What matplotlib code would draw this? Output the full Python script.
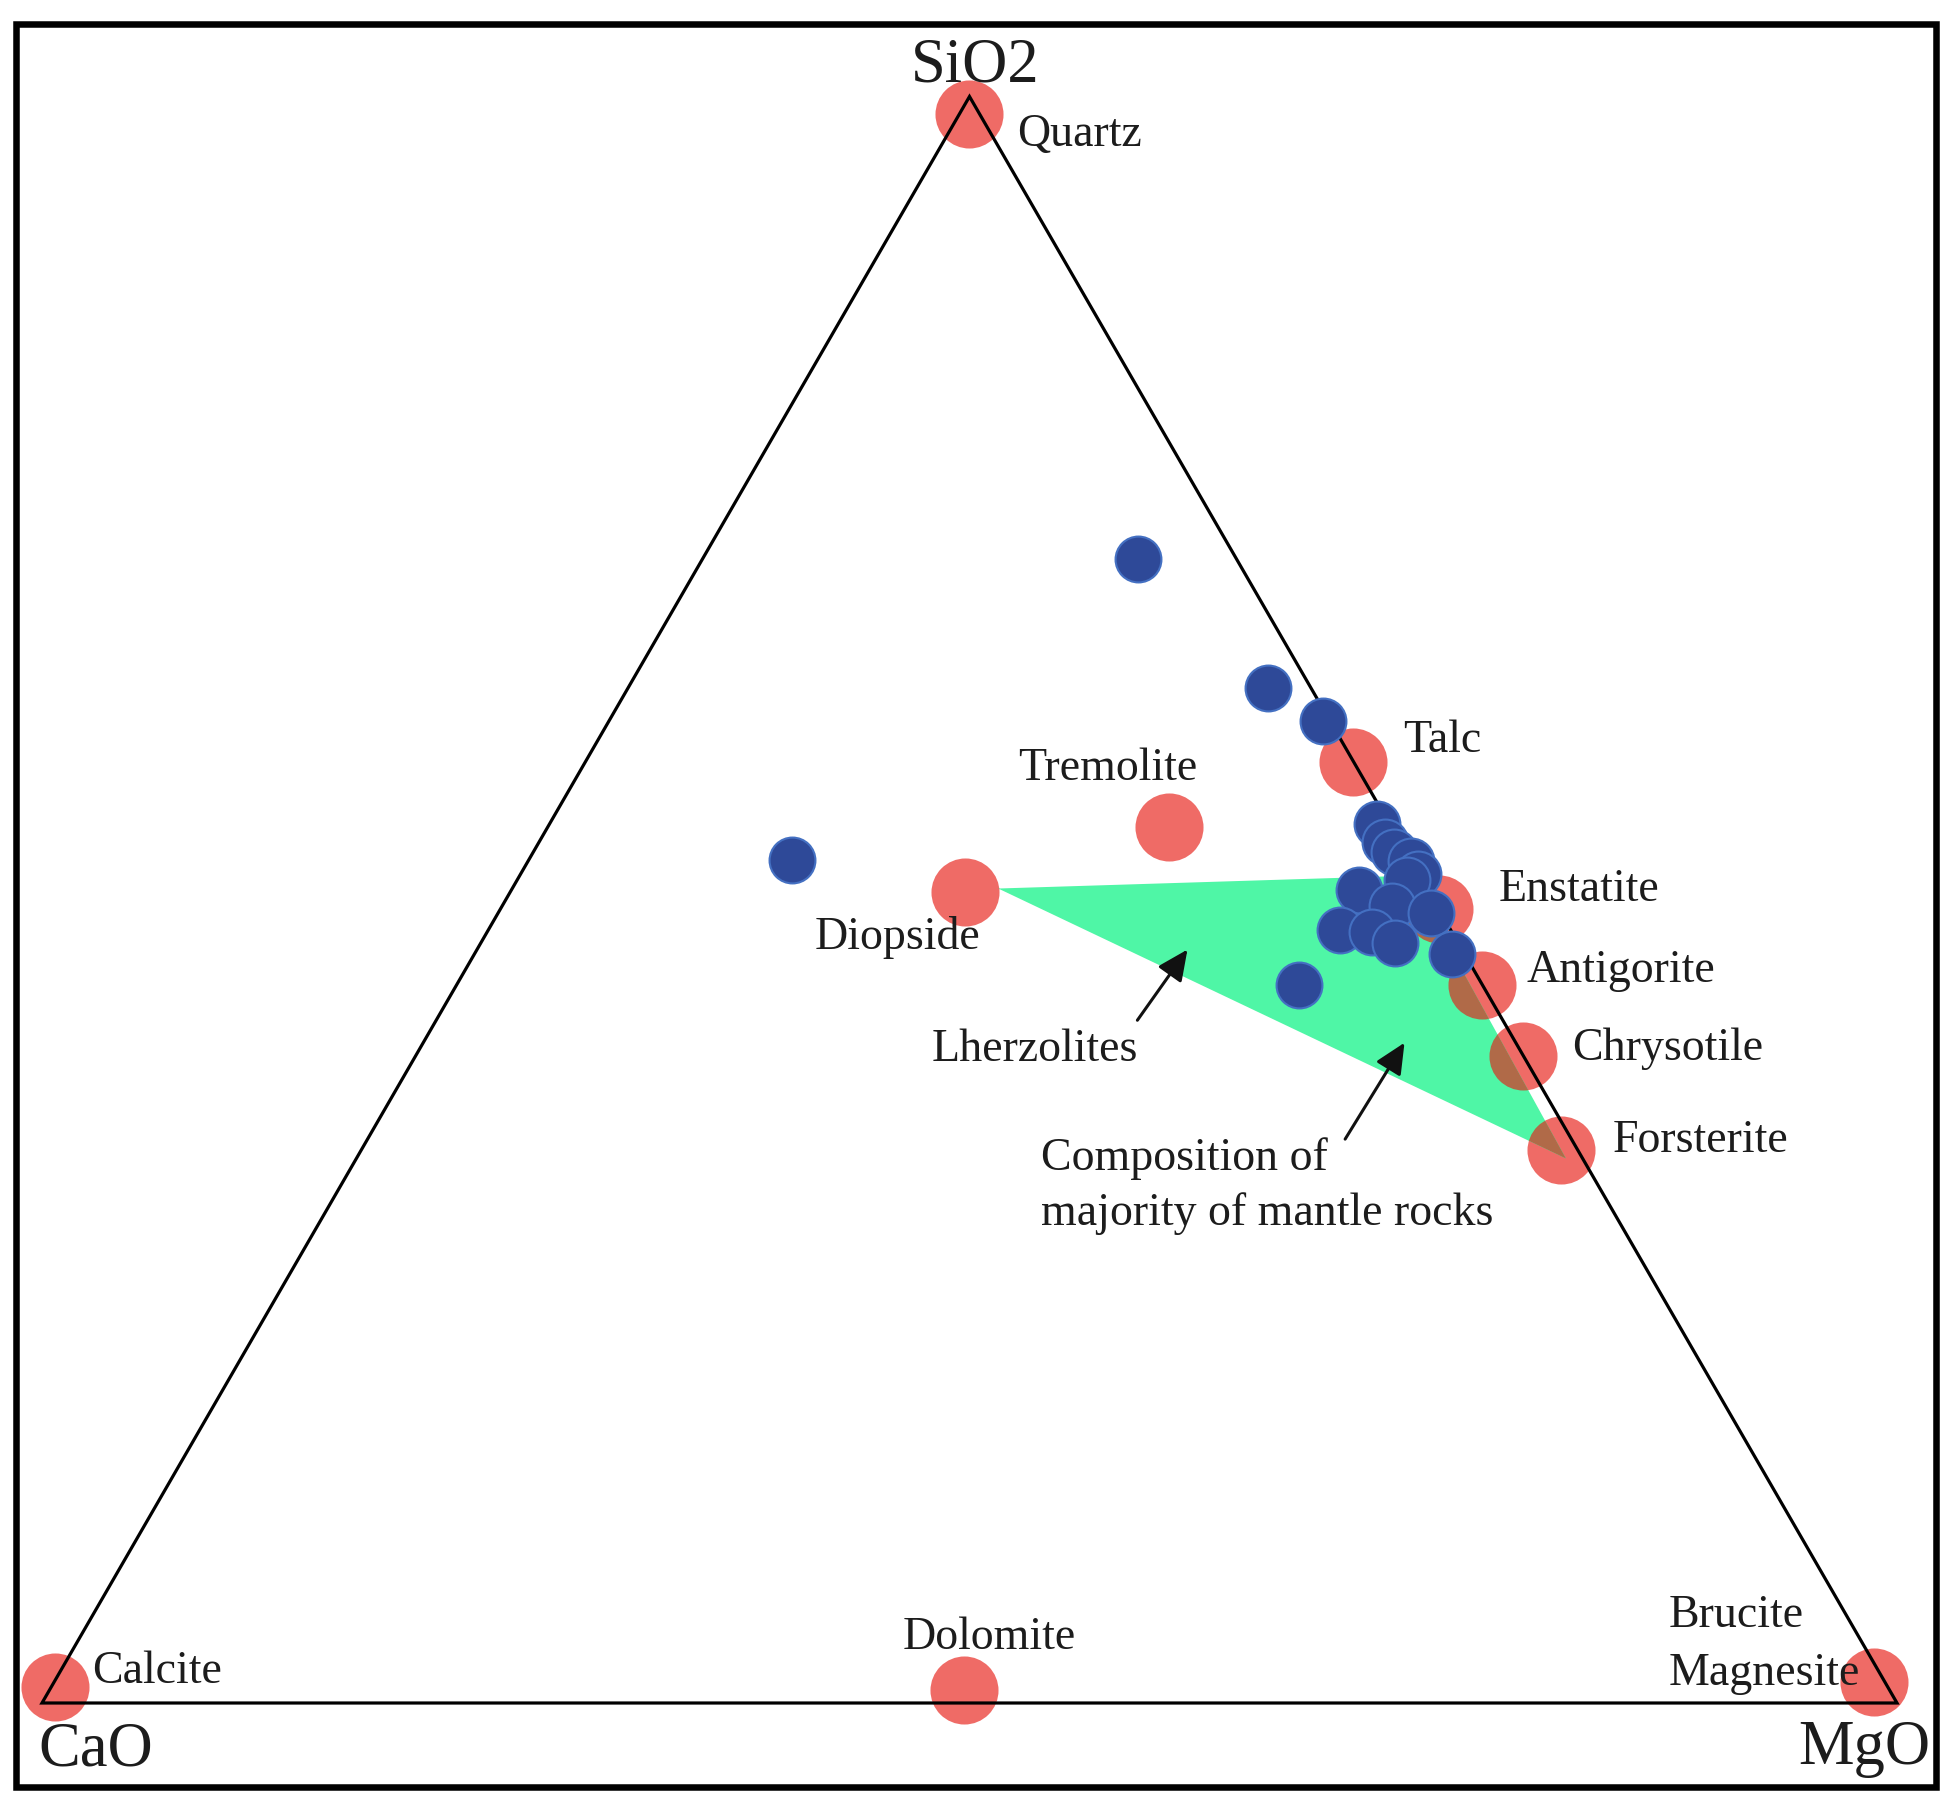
import numpy as np
import matplotlib.pyplot as plt
from matplotlib.patches import Polygon, Rectangle

# --- data (molar %, SiO2 / CaO / MgO) ---
minerals = ["Quartz", "Calcite", "Brucite\nMagnesite", "Dolomite", "Tremolite",
            "Diopside", "Talc", "Enstatite", "Antigorite", "Chrysotile", "Forsterite"]
min_sio2 = [98.9, 1.0, 1.3, 0.8, 54.5, 50.5, 58.6, 49.4, 44.7, 40.3, 34.4]
min_cao = [0.6, 98.8, 0.6, 49.9, 12.0, 25.0, 0.0, 0.0, 0.0, 0.0, 0.9]
min_mgo = [0.5, 0.2, 98.1, 49.3, 33.5, 24.5, 41.4, 50.6, 55.3, 59.7, 64.7]

sample_sio2 = [54.7, 53.6, 53.0, 52.4, 51.6, 51.2, 50.6, 49.6, 49.2, 48.1, 48.0, 47.3, 46.6, 44.7,
               71.2, 63.2, 61.1, 52.5]
sample_cao = [0.7, 0.8, 0.6, 0.0, 0.0, 0.8, 3.7, 2.4, 0.5, 6.0, 4.3, 3.4, 0.7, 9.9,
              5.3, 2.3, 0.4, 33.3]
sample_mgo = [44.6, 45.6, 46.4, 47.6, 48.4, 48.0, 45.7, 48.0, 50.3, 45.9, 47.7, 49.3, 52.7, 45.4,
              23.5, 34.5, 38.5, 14.2]

# mantle rock field
field_sio2 = [50.7, 51.5, 33.9]
field_cao = [23.1, 0.5, 0.9]
field_mgo = [26.2, 48.0, 65.2]

# annotation arrows: (head, tail) compositions
arrow_labels = ["Lherzolites", "Composition of\nmajority of mantle rocks"]
arrow_head = [(46.9, 14.8, 38.3), (41.1, 6.0, 52.9)]
arrow_tail = [(42.5, 19.7, 37.8), (35.1, 12.2, 52.7)]

# label offsets in pixels from each point (left edge, baseline)
label_offsets = [(49, -32), (37, 4), (-205, 55), (-61, 41), (-151, 47), (-150, -57),
                 (50, 10), (60, 8), (44, 3), (49, -4), (51, -2)]
arrow_text_offsets = [(-206, -41), (-304, -31)]
arrow_line_step = [0, 55]

RED = "#ef6b66"
BROWN = "#b06a48"
GREEN = "#4ff6a6"
BLUE = "#2e4998"
BLUE_EDGE = "#4470c2"
TXT = "#1c1c1c"
FONT = "Liberation Serif"
H = np.sqrt(3) / 2


def tern(sio2, cao, mgo):
    s = np.asarray(sio2, float)
    c = np.asarray(cao, float)
    m = np.asarray(mgo, float)
    tot = s + c + m
    s, m = s / tot, m / tot
    return m + s / 2, s * H


fig = plt.figure(figsize=(19.52, 18.09), dpi=100)
ax = fig.add_axes([0, 0, 1, 1])
ax.set_xlim(-42 / 1855, 1910 / 1855)
ax.set_ylim(-106 / 1855, 1703 / 1855)
ax.axis("off")

# outer frame
fig.patches.append(Rectangle((0.00845, 0.01216), 0.98335, 0.97457, transform=fig.transFigure,
                             fill=False, lw=4.7, ec="black"))

# mineral end-members
mx, my = tern(min_sio2, min_cao, min_mgo)
ax.scatter(mx, my, s=2400, c=RED, linewidths=0, zorder=1)

# mantle field
fx, fy = tern(field_sio2, field_cao, field_mgo)
field = Polygon(np.column_stack([fx, fy]), closed=True, fc=GREEN, ec="none", zorder=2)
ax.add_patch(field)
overlap = ax.scatter(mx, my, s=2400, c=BROWN, linewidths=0, zorder=3)
overlap.set_clip_path(field)

# triangle
tri = Polygon([[0, 0], [1, 0], [0.5, H]], closed=True, fill=False, ec="black",
              lw=2.3, joinstyle="miter", zorder=4)
ax.add_patch(tri)

# samples
sx, sy = tern(sample_sio2, sample_cao, sample_mgo)
ax.scatter(sx, sy, s=1090, c=BLUE, edgecolors=BLUE_EDGE, linewidths=1.5, zorder=5)

# corner labels
ax.annotate("SiO2", xy=(0.5, H), xytext=(6, 15), textcoords="offset pixels",
            ha="center", va="baseline", fontsize=45, family=FONT, color=TXT)
ax.annotate("CaO", xy=(0, 0), xytext=(-4, -62), textcoords="offset pixels",
            ha="left", va="baseline", fontsize=45, family=FONT, color=TXT)
ax.annotate("MgO", xy=(1, 0), xytext=(33, -61), textcoords="offset pixels",
            ha="right", va="baseline", fontsize=45, family=FONT, color=TXT)

# mineral labels
for name, x, y, (dx, dy) in zip(minerals, mx, my, label_offsets):
    for i, line in enumerate(name.split("\n")):
        ax.annotate(line, xy=(x, y), xytext=(dx, dy - i * 58), textcoords="offset pixels",
                    ha="left", va="baseline", fontsize=33, family=FONT, color=TXT, zorder=6)

# arrows with labels
for label, head, tail, (dx, dy), step in zip(arrow_labels, arrow_head, arrow_tail,
                                             arrow_text_offsets, arrow_line_step):
    hx, hy = tern(*head)
    tx, ty = tern(*tail)
    ax.annotate("", xy=(hx, hy), xytext=(tx, ty),
                arrowprops=dict(arrowstyle="-|>,head_length=0.75,head_width=0.35",
                                mutation_scale=25, lw=2.2, color="#111111",
                                shrinkA=0, shrinkB=0), zorder=6)
    for i, line in enumerate(label.split("\n")):
        ax.annotate(line, xy=(tx, ty), xytext=(dx, dy - i * step), textcoords="offset pixels",
                    ha="left", va="baseline", fontsize=33, family=FONT, color=TXT, zorder=6)

fig.savefig("out.png", dpi=100)
